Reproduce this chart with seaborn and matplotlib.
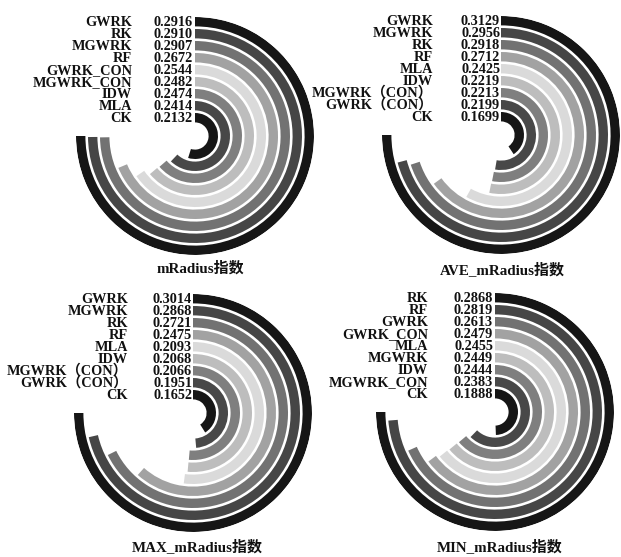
import numpy as np
import pandas as pd
import seaborn as sns
import matplotlib
matplotlib.use("Agg")
import matplotlib.pyplot as plt

sns.set_theme(style="white")
SERIF = ["Liberation Serif", "Noto Sans CJK SC"]
plt.rcParams["font.family"] = SERIF

# Methods per panel, listed from the outer ring to the inner ring
methods_mradius = ["GWRK", "RK", "MGWRK", "RF", "GWRK_CON", "MGWRK_CON", "IDW", "MLA", "CK"]
values_mradius = [0.2916, 0.2910, 0.2907, 0.2672, 0.2544, 0.2482, 0.2474, 0.2414, 0.2132]

methods_ave = ["GWRK", "MGWRK", "RK", "RF", "MLA", "IDW", "MGWRK（CON）", "GWRK（CON）", "CK"]
values_ave = [0.3129, 0.2956, 0.2918, 0.2712, 0.2425, 0.2219, 0.2213, 0.2199, 0.1699]

methods_max = ["GWRK", "MGWRK", "RK", "RF", "MLA", "IDW", "MGWRK（CON）", "GWRK（CON）", "CK"]
values_max = [0.3014, 0.2868, 0.2721, 0.2475, 0.2093, 0.2068, 0.2066, 0.1951, 0.1652]

methods_min = ["RK", "RF", "GWRK", "GWRK_CON", "MLA", "MGWRK", "IDW", "MGWRK_CON", "CK"]
values_min = [0.2868, 0.2819, 0.2613, 0.2479, 0.2455, 0.2449, 0.2444, 0.2383, 0.1888]

titles = ["mRadius指数", "AVE_mRadius指数", "MAX_mRadius指数", "MIN_mRadius指数"]

# Grey ramp, outer ring -> inner ring
ring_colors = sns.color_palette(
    ["#161616", "#464646", "#727272", "#a2a2a2", "#dadada",
     "#bdbdbd", "#7f7f7f", "#484848", "#161616"])

W, H, DPI = 621, 557, 100
fig = plt.figure(figsize=(W / DPI, H / DPI), dpi=DPI)
fig.patch.set_facecolor("white")

R = 119.0          # outer radius in pixels
STEP = 12.0        # radial distance between rings
BAR_W = 9.4        # ring thickness
LABEL_SIZE = 10.3

panels = [
    dict(methods=methods_mradius, values=values_mradius, c=(195, 136), name_dx=-63, val_dx=-2, title_xy=(200, 268)),
    dict(methods=methods_ave, values=values_ave, c=(501, 135), name_dx=-68, val_dx=-1, title_xy=(502, 270)),
    dict(methods=methods_max, values=values_max, c=(193, 413), name_dx=-65, val_dx=-1, title_xy=(197, 547)),
    dict(methods=methods_min, values=values_min, c=(495, 412), name_dx=-67, val_dx=-2, title_xy=(500, 547)),
]

for p, title in zip(panels, titles):
    df = pd.DataFrame({"method": p["methods"], "value": p["values"]})
    n = len(df)
    cx, cy = p["c"]
    ax = fig.add_axes([(cx - R) / W, (H - cy - R) / H, 2 * R / W, 2 * R / H],
                      projection="polar")
    ax.set_theta_zero_location("N")
    ax.set_theta_direction(-1)
    ax.set_ylim(0, R)
    ax.set_axis_off()

    vmax = df["value"].max()
    df["theta"] = df["value"] / vmax * 1.5 * np.pi
    # ring centre radius: outer ring first
    df["r"] = R - BAR_W / 2 - STEP * np.arange(n)

    ax.barh(df["r"], df["theta"], height=BAR_W, left=0,
            color=ring_colors[:n], edgecolor="none")

    for _, row in df.iterrows():
        ax.annotate(row["method"], xy=(0, row["r"]), xytext=(p["name_dx"], -0.5),
                    textcoords="offset pixels", ha="right", va="center",
                    fontsize=LABEL_SIZE, fontweight="bold", color="#111111",
                    family=SERIF, annotation_clip=False)
        ax.annotate(f"{row['value']:.4f}", xy=(0, row["r"]), xytext=(p["val_dx"], -0.5),
                    textcoords="offset pixels", ha="right", va="center",
                    fontsize=LABEL_SIZE, fontweight="bold", color="#111111",
                    family=SERIF, annotation_clip=False)

    tx, ty = p["title_xy"]
    fig.text(tx / W, 1 - ty / H, title, ha="center", va="center",
             fontsize=10.8, fontweight="bold", color="#111111", family=SERIF)

fig.savefig("out.png", dpi=DPI, facecolor="white")
